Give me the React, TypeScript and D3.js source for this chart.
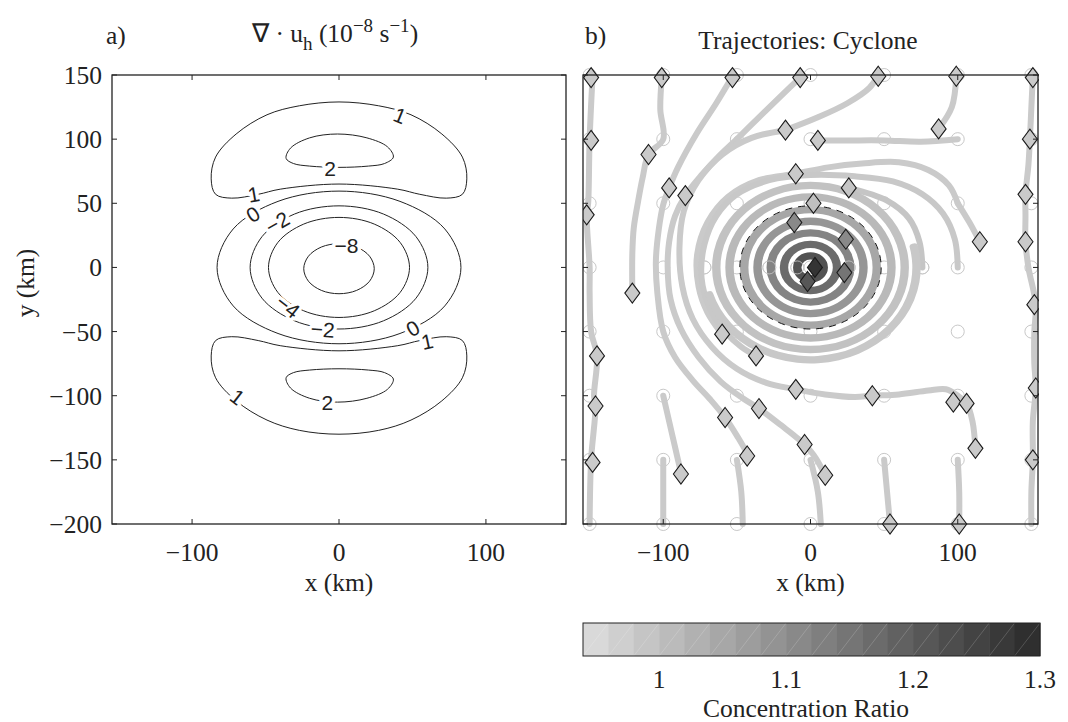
import React from "react";
import * as d3 from "d3";

// ---------- axes / ticks ----------
const X_TICKS = [-100, 0, 100];
const Y_TICKS = [150, 100, 50, 0, -50, -100, -150, -200];
const CB_TICKS = [1, 1.1, 1.2, 1.3];
const CB_MIN = 0.94;
const CB_MAX = 1.3;
const CB_STEP = 0.02;

// ---------- panel a: contour lines (km) ----------
const C1_NORTH = [[0,129],[27,126],[49,119],[70,104],[84,86],[87,69],[84,57],[73,54],[55,57],[40,61],[0,65],[-40,61],[-55,57],[-73,54],[-84,57],[-87,69],[-84,86],[-70,104],[-49,119],[-27,126]];
const C2_NORTH = [[-1,104],[19,101],[33,94],[37,86],[31,81],[20,79],[0,78],[-20,79],[-31,81],[-36,85],[-33,93],[-20,101]];
const C1_SOUTH = [[0,-130],[27,-127],[49,-119],[70,-104],[84,-86],[87,-69],[84,-57],[73,-54],[55,-57],[40,-61],[0,-65],[-40,-61],[-55,-57],[-73,-54],[-84,-57],[-87,-69],[-84,-86],[-70,-104],[-49,-119],[-27,-127]];
const C2_SOUTH = [[-1,-105],[19,-102],[33,-95],[37,-87],[31,-82],[20,-80],[0,-79],[-20,-80],[-31,-82],[-36,-86],[-33,-94],[-20,-102]];
const C0 = [[83,0],[72,30],[41.5,51.5],[0,59.5],[-41.5,51.5],[-72,30],[-83,0],[-72,-30],[-41.5,-51.5],[0,-59.5],[41.5,-51.5],[72,-30]];
const CM2 = [[60.5,0],[52.4,24],[30.3,41.6],[0,48],[-30.3,41.6],[-52.4,24],[-60.5,0],[-52.4,-24],[-30.3,-41.6],[0,-48],[30.3,-41.6],[52.4,-24]];
const CM4 = [[48,0],[41.6,19.5],[24,33.8],[0,39],[-24,33.8],[-41.6,19.5],[-48,0],[-41.6,-19.5],[-24,-33.8],[0,-39],[24,-33.8],[41.6,-19.5]];
const CM8 = [[24,-1],[20.8,8.75],[12,15.9],[0,18.5],[-12,15.9],[-20.8,8.75],[-24,-1],[-20.8,-10.75],[-12,-17.9],[0,-20.5],[12,-17.9],[20.8,-10.75]];

// label text, x km, y km, rotation deg
const CONTOUR_LABELS: [string, number, number, number][] = [
  ["1", 41.5, 118.5, 22],
  ["2", -6, 77, 0],
  ["1", -58, 57, -10],
  ["0", -58.5, 41.5, -32],
  ["\u22122", -42, 35, -30],
  ["\u22128", 5, 17, 0],
  ["\u22124", -34.7, -30.4, 38],
  ["\u22122", -11, -48.3, 4],
  ["0", 50.3, -47.5, -30],
  ["1", 60, -57.7, -12],
  ["2", -8, -105, 0],
  ["1", -69, -101, 38],
];

// ---------- panel b: trajectories (km) ----------
const START_X = [-150, -100, -50, 0, 50, 100, 150];
const START_Y = [150, 100, 50, 0, -50, -100, -150, -200];
const EXTRA_START_X = [-72, -28, -9, 26, 76];

const TRAJ_W1 = [[-148,149],[-150,100],[-151,50],[-152,41],[-150,0],[-150,-20],[-149,-50],[-145,-69],[-147,-100],[-146,-108],[-149,-150],[-150,-200]];
const TRAJ_W2 = [[-101,148],[-102,123],[-100,100],[-110,88],[-114,70],[-117,52],[-120,31],[-121,11],[-121,-20]];
const TRAJ_A = [[-53,149],[-64,128],[-77,105],[-90,78],[-96,62],[-100,49],[-103,30],[-105,5],[-104,-20],[-100,-50],[-92,-70],[-80,-88],[-68,-103],[-58,-117],[-49,-133],[-42,-147]];
const TRAJ_B = [[-50,100],[-62,87],[-74,72],[-85,56],[-92,40],[-96,20],[-97,0],[-95,-25],[-88,-48],[-76,-70],[-61,-89],[-46,-102],[-35,-110],[-20,-123],[-8,-134],[2,-146],[10,-162]];
const TRAJ_C = [[-17,107],[-40,101],[-60,88],[-76,68],[-86,44],[-89,15],[-87,-15],[-80,-40],[-67,-62],[-50,-79],[-30,-90],[-10,-95],[10,-99],[30,-101],[42,-100],[60,-99],[80,-96],[92,-95],[100,-100],[106,-106],[110,-120],[112,-141]];
const TRAJ_D = [[100,50],[94,64],[80,76],[60,82],[35,81],[12,78],[-10,73],[-35,68],[-56,55],[-70,35],[-77,10],[-76,-15],[-70,-35],[-60,-52]];
const TRAJ_E = [[100,0],[98,22],[90,42],[76,57],[56,67],[30,71],[0,72],[-28,68],[-50,57],[-64,40],[-72,18],[-74,-8],[-68,-33],[-58,-50],[-47,-62],[-37,-69]];
const TRAJ_F = [[76,0],[74,20],[67,38],[52,52],[26,62]];
const TRAJ_E1 = [[151,149],[150,125],[149,100],[148,80],[146,57],[146,40],[146,20],[148,0],[153,-29],[152,-50],[152,-75],[153,-94],[151,-120],[151,-150],[150,-175],[150,-200]];
const TRAJ_S1 = [[-100,-100],[-96,-120],[-92,-140],[-88,-160]];
const TRAJ_S2 = [[-100,-150],[-100,-200]];
const TRAJ_S3 = [[-50,-150],[-47,-175],[-46,-200]];
const TRAJ_S4 = [[0,-150],[5,-175],[7,-200]];
const TRAJ_S5 = [[50,-150],[52,-175],[54,-200]];
const TRAJ_S6 = [[100,-150],[101,-175],[101,-200]];
const TRAJ_N1 = [[46,150],[40,140],[25,128],[5,117],[-17,107]];
const TRAJ_N2 = [[-50,100],[-35,117],[-17,137],[-7,148]];
const TRAJ_N3 = [[87,108],[96,125],[99,149]];
const TRAJ_N4 = [[100,100],[75,98],[50,99],[25,99],[5,99]];
const TRAJ_N5 = [[100,50],[108,35],[115,20]];
const TRAJ_LIST = [TRAJ_W1, TRAJ_W2, TRAJ_A, TRAJ_B, TRAJ_C, TRAJ_D, TRAJ_E, TRAJ_F, TRAJ_E1, TRAJ_S1, TRAJ_S2, TRAJ_S3, TRAJ_S4, TRAJ_S5, TRAJ_S6, TRAJ_N1, TRAJ_N2, TRAJ_N3, TRAJ_N4, TRAJ_N5];
const TRAJ_RATIO = [0.98, 0.98, 0.98, 0.98, 0.98, 0.98, 0.985, 0.99, 0.98, 0.98, 0.98, 0.98, 0.98, 0.98, 0.98, 0.98, 0.98, 0.98, 0.98, 0.98];

// rings of the inner spiral: radius km, start deg, end deg (clockwise from north), concentration ratio
const RINGS: [number, number, number, number][] = [
  [9, 0, 360, 1.22],
  [18, 0, 360, 1.17],
  [27, 0, 360, 1.12],
  [36, 0, 360, 1.085],
  [45, 0, 360, 1.05],
  [55, 0, 360, 1.015],
  [64, 0, 360, 0.995],
  [72, 75, 255, 0.985],
];

// diamonds: x km, y km, concentration ratio
const DIAMONDS: [number, number, number][] = [
  [-149,148,0.98],[-101,148,0.98],[-53,148,0.98],[-7,148,0.98],[46,149,0.98],[99,149,0.98],[151,148,0.98],
  [-149,99,0.98],[-110,88,0.98],[-17,107,0.98],[5,99,0.98],[87,108,0.98],[149,100,0.98],
  [-96,62,0.98],[-85,56,0.98],[-10,73,0.98],[26,62,0.99],[2,50,1.0],[-152,41,0.98],[146,57,0.98],[146,20,0.98],[115,20,0.98],
  [-11,35,1.11],[24,22,1.11],[3,0,1.28],[-2,-11,1.21],[23,-4,1.15],[-60,-52,0.98],
  [-121,-20,0.98],[-145,-69,0.98],[-146,-108,0.98],[-148,-152,0.98],[-88,-161,0.98],
  [-37,-69,0.98],[-58,-117,0.98],[-35,-110,0.98],[-43,-147,0.98],[-10,-95,0.98],[-4,-138,0.98],
  [42,-100,0.98],[97,-105,0.98],[106,-106,0.98],[112,-141,0.98],[10,-162,0.98],[54,-200,0.98],[101,-200,0.98],
  [152,-29,0.98],[153,-94,0.98],[151,-150,0.98],
];

const DASHED_RADIUS = 48;

export default function App() {
  const W = 1068, H = 722;
  const top = 75, bottom = 524;
  const xA = d3.scaleLinear().domain([-154.5, 154.5]).range([112, 566]);
  const xB = d3.scaleLinear().domain([-154.5, 154.5]).range([583, 1038]);
  const y = d3.scaleLinear().domain([-200, 150]).range([bottom, top]);
  const cb = d3.scaleLinear().domain([CB_MIN, CB_MAX]).range([583, 1040]);
  const gray = d3.scaleLinear<string>().domain([CB_MIN, CB_MAX]).range(["#dedede", "#2a2a2a"]).clamp(true);

  const serif = "'Liberation Serif', 'Times New Roman', serif";
  const sans = "'Liberation Sans', Arial, sans-serif";
  const FS = 25.5;

  const contourLine = d3.line<number[]>().x(d => xA(d[0])).y(d => y(d[1])).curve(d3.curveCatmullRomClosed.alpha(0.5));
  const trajLine = d3.line<number[]>().x(d => xB(d[0])).y(d => y(d[1])).curve(d3.curveCatmullRom.alpha(0.5));
  const contours = [C1_NORTH, C2_NORTH, C1_SOUTH, C2_SOUTH, C0, CM2, CM4, CM8];

  const kx = xB(1) - xB(0);
  const ky = y(0) - y(1);
  const arc = d3.arc<[number, number, number, number]>()
    .innerRadius(d => d[0] * kx - 4.2)
    .outerRadius(d => d[0] * kx + 4.2)
    .startAngle(d => (d[1] * Math.PI) / 180)
    .endAngle(d => (d[2] * Math.PI) / 180)
    .cornerRadius(3.5);

  const cbBlocks = d3.range(CB_MIN, CB_MAX - 1e-9, CB_STEP);

  const ticks = (xs: d3.ScaleLinear<number, number>) => (
    <g stroke="#222" strokeWidth={1}>
      {X_TICKS.map(t => (
        <g key={"x" + t}>
          <line x1={xs(t)} x2={xs(t)} y1={bottom} y2={bottom - 5} />
          <line x1={xs(t)} x2={xs(t)} y1={top} y2={top + 5} />
        </g>
      ))}
      {Y_TICKS.map(t => (
        <g key={"y" + t}>
          <line x1={xs.range()[0]} x2={xs.range()[0] + 5} y1={y(t)} y2={y(t)} />
          <line x1={xs.range()[1]} x2={xs.range()[1] - 5} y1={y(t)} y2={y(t)} />
        </g>
      ))}
    </g>
  );

  const fmt = (v: number) => (v < 0 ? "\u2212" + Math.abs(v) : String(v));

  return (
    <svg width={W} height={H} style={{ position: "absolute", left: 0, top: 0, background: "#fff" }}>
      <rect width={W} height={H} fill="#fff" />
      {/* ---------- panel a ---------- */}
      <text x={106} y={44} fontFamily={serif} fontSize={FS} fill="#222">a)</text>
      <text x={252} y={42} fontFamily={serif} fontSize={FS} fill="#222">
        <tspan>{"\u2207 \u00b7 u"}</tspan>
        <tspan dy={8} fontSize={19}>h</tspan>
        <tspan dy={-8}>{" (10"}</tspan>
        <tspan dy={-10} fontSize={19}>{"\u22128"}</tspan>
        <tspan dy={10}>{" s"}</tspan>
        <tspan dy={-10} fontSize={19}>{"\u22121"}</tspan>
        <tspan dy={10}>)</tspan>
      </text>
      <g fill="none" stroke="#222" strokeWidth={1}>
        {contours.map((c, i) => <path key={i} d={contourLine(c) || ""} />)}
      </g>
      <g fontFamily={sans} fontSize={21} fill="#222" textAnchor="middle">
        {CONTOUR_LABELS.map((l, i) => (
          <text key={i} transform={`translate(${xA(l[1])},${y(l[2])}) rotate(${l[3]})`} dy="0.36em"
            stroke="#fff" strokeWidth={7} paintOrder="stroke" strokeLinejoin="round">{l[0]}</text>
        ))}
      </g>
      <rect x={112} y={top} width={454} height={bottom - top} fill="none" stroke="#222" strokeWidth={1.3} />
      {ticks(xA)}
      <g fontFamily={serif} fontSize={FS} fill="#222">
        {X_TICKS.map(t => <text key={t} x={xA(t)} y={561} textAnchor="middle">{fmt(t)}</text>)}
        {Y_TICKS.map(t => <text key={t} x={102} y={y(t) + 9} textAnchor="end">{fmt(t)}</text>)}
        <text x={xA(0)} y={591} textAnchor="middle">x (km)</text>
        <text transform={`translate(34,${283}) rotate(-90)`} textAnchor="middle">y (km)</text>
      </g>

      {/* ---------- panel b ---------- */}
      <text x={585} y={44} fontFamily={serif} fontSize={FS} fill="#222">b)</text>
      <text x={808} y={49} fontFamily={serif} fontSize={FS} fill="#222" textAnchor="middle">Trajectories: Cyclone</text>
      <defs>
        <clipPath id="clipB"><rect x={583} y={top - 12} width={456} height={bottom - top + 24} /></clipPath>
      </defs>
      <g clipPath="url(#clipB)">
        <g fill="none" stroke="#c8c8c8" strokeWidth={1}>
          {START_X.flatMap(sx => START_Y.map(sy => <circle key={sx + "_" + sy} cx={xB(sx)} cy={y(sy)} r={6.5} />))}
          {EXTRA_START_X.map(sx => <circle key={"e" + sx} cx={xB(sx)} cy={y(0)} r={6.5} />)}
        </g>
        <g fill="none" strokeWidth={6} strokeLinecap="round" strokeLinejoin="round">
          {TRAJ_LIST.map((t, i) => <path key={i} d={trajLine(t) || ""} stroke={gray(TRAJ_RATIO[i])} />)}
        </g>
        <g transform={`translate(${xB(0)},${y(0)}) scale(1,${ky / kx})`}>
          {RINGS.slice().reverse().map((r, i) => <path key={i} d={arc(r) || ""} fill={gray(r[3])} />)}
        </g>
        <g fill="none" stroke="#c8c8c8" strokeWidth={1} strokeOpacity={0.8}>
          {EXTRA_START_X.map(sx => <circle key={"o" + sx} cx={xB(sx)} cy={y(0)} r={6.5} />)}
        </g>
        <ellipse cx={xB(0)} cy={y(0)} rx={DASHED_RADIUS * kx} ry={DASHED_RADIUS * ky} fill="none" stroke="#111" strokeWidth={1} strokeDasharray="7 6" />
        <g stroke="#1a1a1a" strokeWidth={1.1}>
          {DIAMONDS.map((d, i) => {
            const cx = xB(d[0]), cy = y(d[1]);
            return <path key={i} d={`M${cx},${cy - 10}L${cx + 7.5},${cy}L${cx},${cy + 10}L${cx - 7.5},${cy}Z`} fill={gray(d[2])} />;
          })}
        </g>
      </g>
      <rect x={583} y={top} width={455} height={bottom - top} fill="none" stroke="#222" strokeWidth={1.3} />
      {ticks(xB)}
      <g fontFamily={serif} fontSize={FS} fill="#222">
        {X_TICKS.map(t => <text key={t} x={xB(t)} y={561} textAnchor="middle">{fmt(t)}</text>)}
        <text x={xB(0)} y={591} textAnchor="middle">x (km)</text>
      </g>

      {/* ---------- colorbar ---------- */}
      <g>
        {cbBlocks.map((v, i) => (
          <g key={i}>
            <rect x={cb(v)} y={623} width={cb(v + CB_STEP) - cb(v) + 0.5} height={33} fill={gray(v + CB_STEP / 2)} />
            <line x1={cb(v)} y1={656} x2={cb(v + CB_STEP)} y2={623} stroke="#fff" strokeOpacity={0.25} strokeWidth={0.7} />
          </g>
        ))}
        <rect x={583} y={623} width={457} height={33} fill="none" stroke="#222" strokeWidth={1} />
        <g fontFamily={serif} fontSize={FS} fill="#222" textAnchor="middle">
          {CB_TICKS.map(t => <text key={t} x={cb(t)} y={688}>{String(t)}</text>)}
          <text x={806} y={717}>Concentration Ratio</text>
        </g>
      </g>
    </svg>
  );
}
